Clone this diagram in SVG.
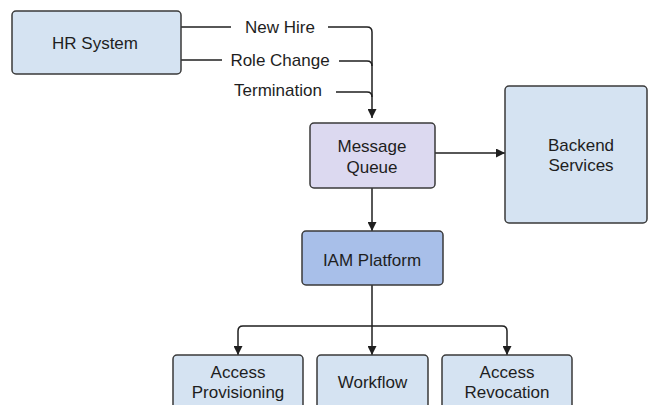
<svg xmlns="http://www.w3.org/2000/svg" width="648" height="405" viewBox="0 0 648 405">
<defs>
<marker id="ah" viewBox="0 0 10 10" refX="10" refY="5" markerWidth="9" markerHeight="9" markerUnits="userSpaceOnUse" orient="auto">
<path d="M0,0 L10,5 L0,10 Z" fill="#1f1f1f"/>
</marker>
</defs>
<style>
.box{stroke:#3a3a3a;stroke-width:1.5}
.light{fill:#d5e3f2}
.mq{fill:#dcd9f0}
.iam{fill:#a8bfe9}
text{font-family:"Liberation Sans",Arial,sans-serif;font-size:17px;fill:#1e1e1e;text-anchor:middle}
.conn{fill:none;stroke:#1f1f1f;stroke-width:1.5}
</style>
<rect width="648" height="405" fill="#ffffff"/>
<g id="connectors">
<path class="conn" d="M181,27 H231"/>
<path class="conn" d="M181,60 H222"/>
<path class="conn" d="M328,27 H367 Q372,27 372,32 V118" marker-end="url(#ah)"/>
<path class="conn" d="M339,61 H367 Q372,61 372,66"/>
<path class="conn" d="M336,92 H367 Q372,92 372,97"/>
<path class="conn" d="M435,153 H505" marker-end="url(#ah)"/>
<path class="conn" d="M372,188 V231" marker-end="url(#ah)"/>
<path class="conn" d="M372,285 V355" marker-end="url(#ah)"/>
<path class="conn" d="M372,326 H243 Q238,326 238,331 V355" marker-end="url(#ah)"/>
<path class="conn" d="M372,326 H502 Q507,326 507,331 V355" marker-end="url(#ah)"/>
</g>
<g id="label-new-hire"><text x="280" y="33">New Hire</text></g>
<g id="label-role-change"><text x="280" y="65.5">Role Change</text></g>
<g id="label-termination"><text x="278" y="96">Termination</text></g>
<g id="hr-system">
<rect class="box light" x="12" y="11" width="169" height="63" rx="4"/>
<text x="95" y="49">HR System</text>
</g>
<g id="message-queue">
<rect class="box mq" x="310" y="123" width="125" height="65" rx="4"/>
<text x="372" y="151.5">Message</text>
<text x="372" y="172.5">Queue</text>
</g>
<g id="backend-services">
<rect class="box light" x="505" y="86" width="142" height="137" rx="4"/>
<text x="581" y="151">Backend</text>
<text x="581" y="171">Services</text>
</g>
<g id="iam-platform">
<rect class="box iam" x="302" y="231" width="141" height="54" rx="4"/>
<text x="372" y="266">IAM Platform</text>
</g>
<g id="access-provisioning">
<rect class="box light" x="173" y="355" width="130" height="60" rx="4"/>
<text x="238" y="378">Access</text>
<text x="238" y="398">Provisioning</text>
</g>
<g id="workflow">
<rect class="box light" x="317" y="355" width="111" height="60" rx="4"/>
<text x="372.5" y="388">Workflow</text>
</g>
<g id="access-revocation">
<rect class="box light" x="442" y="355" width="130" height="60" rx="4"/>
<text x="507" y="378">Access</text>
<text x="507" y="398">Revocation</text>
</g>
</svg>
